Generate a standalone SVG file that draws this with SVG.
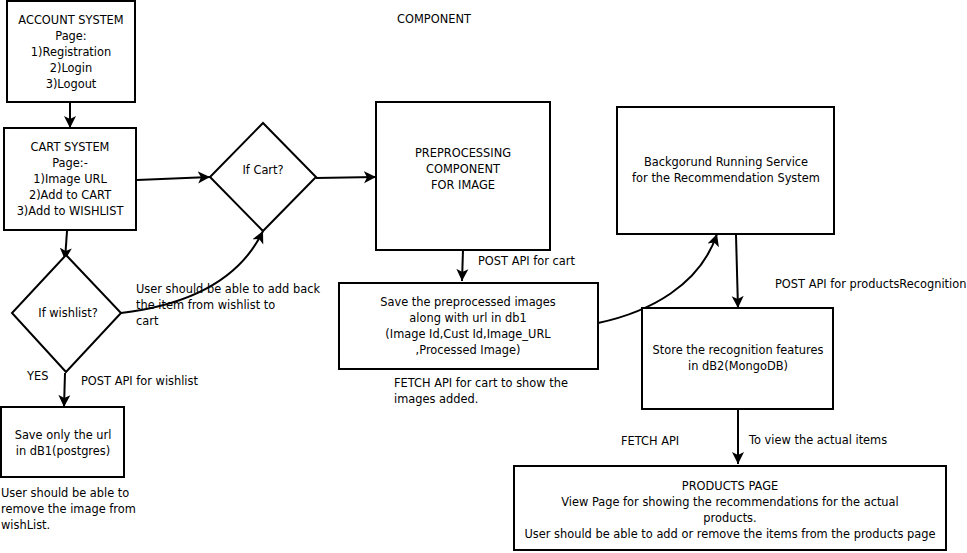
<svg xmlns="http://www.w3.org/2000/svg" width="967" height="553" viewBox="0 0 967 553">
<style>
.box{fill:#fff;stroke:#000;stroke-width:2}
.ln{fill:none;stroke:#000;stroke-width:2}
text{font-family:"DejaVu Sans",Verdana,sans-serif;font-size:11.4px;fill:#000}
.c{text-anchor:middle}
</style>
<defs>
<marker id="ah" markerUnits="userSpaceOnUse" markerWidth="14" markerHeight="14" viewBox="0 0 14 14" refX="12" refY="7" orient="auto">
<path d="M0,1 L12,7 L0,13 L3,7 Z" fill="#000"/>
</marker>
</defs>
<rect width="967" height="553" fill="#fff"/>
<text x="434" y="23" class="c">COMPONENT</text>

<g id="connectors">
<line class="ln" x1="70" y1="102" x2="70" y2="128" marker-end="url(#ah)"/>
<line class="ln" x1="137" y1="180" x2="210" y2="177" marker-end="url(#ah)"/>
<line class="ln" x1="316" y1="178" x2="376" y2="177" marker-end="url(#ah)"/>
<line class="ln" x1="463" y1="250" x2="462" y2="281" marker-end="url(#ah)"/>
<line class="ln" x1="67" y1="231" x2="65" y2="260" marker-end="url(#ah)"/>
<path class="ln" d="M121,313 Q230,300 263,231" marker-end="url(#ah)"/>
<line class="ln" x1="65" y1="373" x2="64" y2="407" marker-end="url(#ah)"/>
<path class="ln" d="M598,323 C650,312 700,285 717,234" marker-end="url(#ah)"/>
<line class="ln" x1="736" y1="235" x2="738" y2="308" marker-end="url(#ah)"/>
<line class="ln" x1="738" y1="409" x2="738" y2="464" marker-end="url(#ah)"/>
</g>

<g id="account">
<rect class="box" x="7" y="1" width="128" height="101"/>
<text class="c" x="71" y="24">ACCOUNT SYSTEM</text>
<text class="c" x="71" y="40">Page:</text>
<text class="c" x="71" y="56">1)Registration</text>
<text class="c" x="71" y="72">2)Login</text>
<text class="c" x="71" y="88">3)Logout</text>
</g>

<g id="cart">
<rect class="box" x="4" y="128" width="132" height="102"/>
<text class="c" x="70" y="151">CART SYSTEM</text>
<text class="c" x="70" y="167">Page:-</text>
<text class="c" x="70" y="183">1)Image URL</text>
<text class="c" x="70" y="199">2)Add to CART</text>
<text class="c" x="70" y="215">3)Add to WISHLIST</text>
</g>

<g id="ifcart">
<polygon class="box" points="263,123 316,177 263,231 210,177"/>
<text class="c" x="263" y="174">If Cart?</text>
</g>

<g id="preprocessing">
<rect class="box" x="376" y="102" width="174" height="148"/>
<text class="c" x="463" y="157">PREPROCESSING</text>
<text class="c" x="463" y="173">COMPONENT</text>
<text class="c" x="463" y="189">FOR IMAGE</text>
</g>
<text x="478" y="265">POST API for cart</text>

<g id="savecart">
<rect class="box" x="339" y="283" width="259" height="86"/>
<text class="c" x="468" y="306">Save the preprocessed images</text>
<text class="c" x="468" y="322">along with url in db1</text>
<text class="c" x="468" y="338">(Image Id,Cust Id,Image_URL</text>
<text class="c" x="468" y="354">,Processed Image)</text>
</g>
<text x="394" y="387">FETCH API for cart to show the</text>
<text x="394" y="403">images added.</text>

<g id="background">
<rect class="box" x="617" y="107" width="217" height="127"/>
<text class="c" x="726" y="166">Backgorund Running Service</text>
<text class="c" x="726" y="182">for the Recommendation System</text>
</g>
<text x="775" y="288">POST API for productsRecognition</text>

<g id="store">
<rect class="box" x="642" y="308" width="191" height="101"/>
<text class="c" x="738" y="354">Store the recognition features</text>
<text class="c" x="738" y="370">in dB2(MongoDB)</text>
</g>
<text x="621" y="445">FETCH API</text>
<text x="749" y="444">To view the actual items</text>

<g id="products">
<rect class="box" x="514" y="466" width="432" height="84"/>
<text class="c" x="730" y="490">PRODUCTS PAGE</text>
<text class="c" x="730" y="506">View Page for showing the recommendations for the actual</text>
<text class="c" x="730" y="522">products.</text>
<text class="c" x="730" y="538">User should be able to add or remove the items from the products page</text>
</g>

<g id="ifwishlist">
<polygon class="box" points="66,255 121,313 66,372 12,313"/>
<text class="c" x="68" y="317">If wishlist?</text>
</g>
<text x="136" y="293">User should be able to add back</text>
<text x="136" y="309">the item from wishlist to</text>
<text x="136" y="325">cart</text>
<text x="27" y="380">YES</text>
<text x="81" y="385">POST API for wishlist</text>

<g id="saveurl">
<rect class="box" x="1" y="407" width="123" height="70"/>
<text class="c" x="63" y="439">Save only the url</text>
<text class="c" x="63" y="455">in dB1(postgres)</text>
</g>
<text x="1" y="497">User should be able to</text>
<text x="1" y="513">remove the image from</text>
<text x="1" y="529">wishList.</text>
</svg>
